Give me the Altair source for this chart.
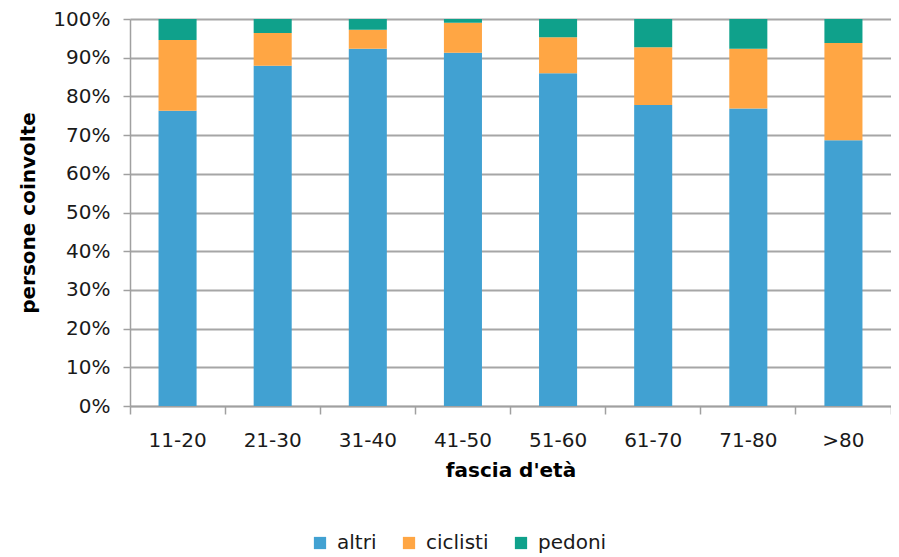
import altair as alt
import pandas as pd

categories = ["11-20", "21-30", "31-40", "41-50", "51-60", "61-70", "71-80", ">80"]
altri = [76.3, 87.9, 92.3, 91.3, 86.0, 77.8, 76.9, 68.7]
ciclisti = [18.3, 8.5, 4.9, 7.7, 9.3, 14.9, 15.4, 25.1]
pedoni = [5.4, 3.6, 2.8, 1.0, 4.7, 7.3, 7.7, 6.2]
series = ["altri", "ciclisti", "pedoni"]
colors = ["#41A1D2", "#FFA644", "#0FA18B"]
y_ticks = [0, 0.1, 0.2, 0.3, 0.4, 0.5, 0.6, 0.7, 0.8, 0.9, 1.0]

rows = []
for s_i, (name, vals) in enumerate(zip(series, [altri, ciclisti, pedoni])):
    for c, v in zip(categories, vals):
        rows.append({"fascia": c, "serie": name, "valore": v / 100.0, "ordine": s_i})
df = pd.DataFrame(rows)

FONT = "DejaVu Sans"
W = 761

chart = (
    alt.Chart(df)
    .mark_bar(width=alt.RelativeBandSize(0.4))
    .encode(
        x=alt.X(
            "fascia:N",
            sort=categories,
            title="fascia d'età",
            scale=alt.Scale(paddingInner=0, paddingOuter=0),
            axis=alt.Axis(
                labelAngle=0,
                bandPosition=1,
                tickExtra=True,
                tickSize=8,
                labelPadding=16,
                titlePadding=10,
                grid=False,
            ),
        ),
        y=alt.Y(
            "valore:Q",
            stack="zero",
            title="persone coinvolte",
            scale=alt.Scale(domain=[0, 1], nice=False),
            axis=alt.Axis(
                values=y_ticks,
                format=".0%",
                tickSize=7,
                labelPadding=13,
                titlePadding=14,
                grid=True,
            ),
        ),
        color=alt.Color(
            "serie:N",
            sort=series,
            scale=alt.Scale(domain=series, range=colors),
            legend=alt.Legend(
                title=None,
                orient="none",
                legendX=180,
                legendY=514,
                direction="horizontal",
                symbolType="square",
                symbolSize=150,
                symbolStrokeWidth=0,
                labelFontSize=20,
                labelFont=FONT,
                labelColor="#1a1a1a",
                labelOffset=7,
                columnPadding=22,
                padding=0,
            ),
        ),
        order=alt.Order("ordine:Q", sort="ascending"),
    )
    .properties(
        width=W,
        height=387,
        autosize=alt.AutoSizeParams(type="none"),
        padding={"left": 122, "top": 11, "right": 0, "bottom": 150},
    )
    .configure_view(stroke=None)
    .configure_axis(
        labelFont=FONT,
        labelFontSize=20,
        labelColor="#1a1a1a",
        titleFont=FONT,
        titleFontSize=20,
        titleFontWeight="bold",
        titleColor="#000000",
        domainColor="#a0a0a0",
        domainWidth=1.5,
        tickColor="#a0a0a0",
        tickWidth=1.5,
        gridColor="#a6a6a6",
        gridWidth=2,
    )
)

chart.save("out.html", embed_options={"renderer": "svg", "actions": False})
